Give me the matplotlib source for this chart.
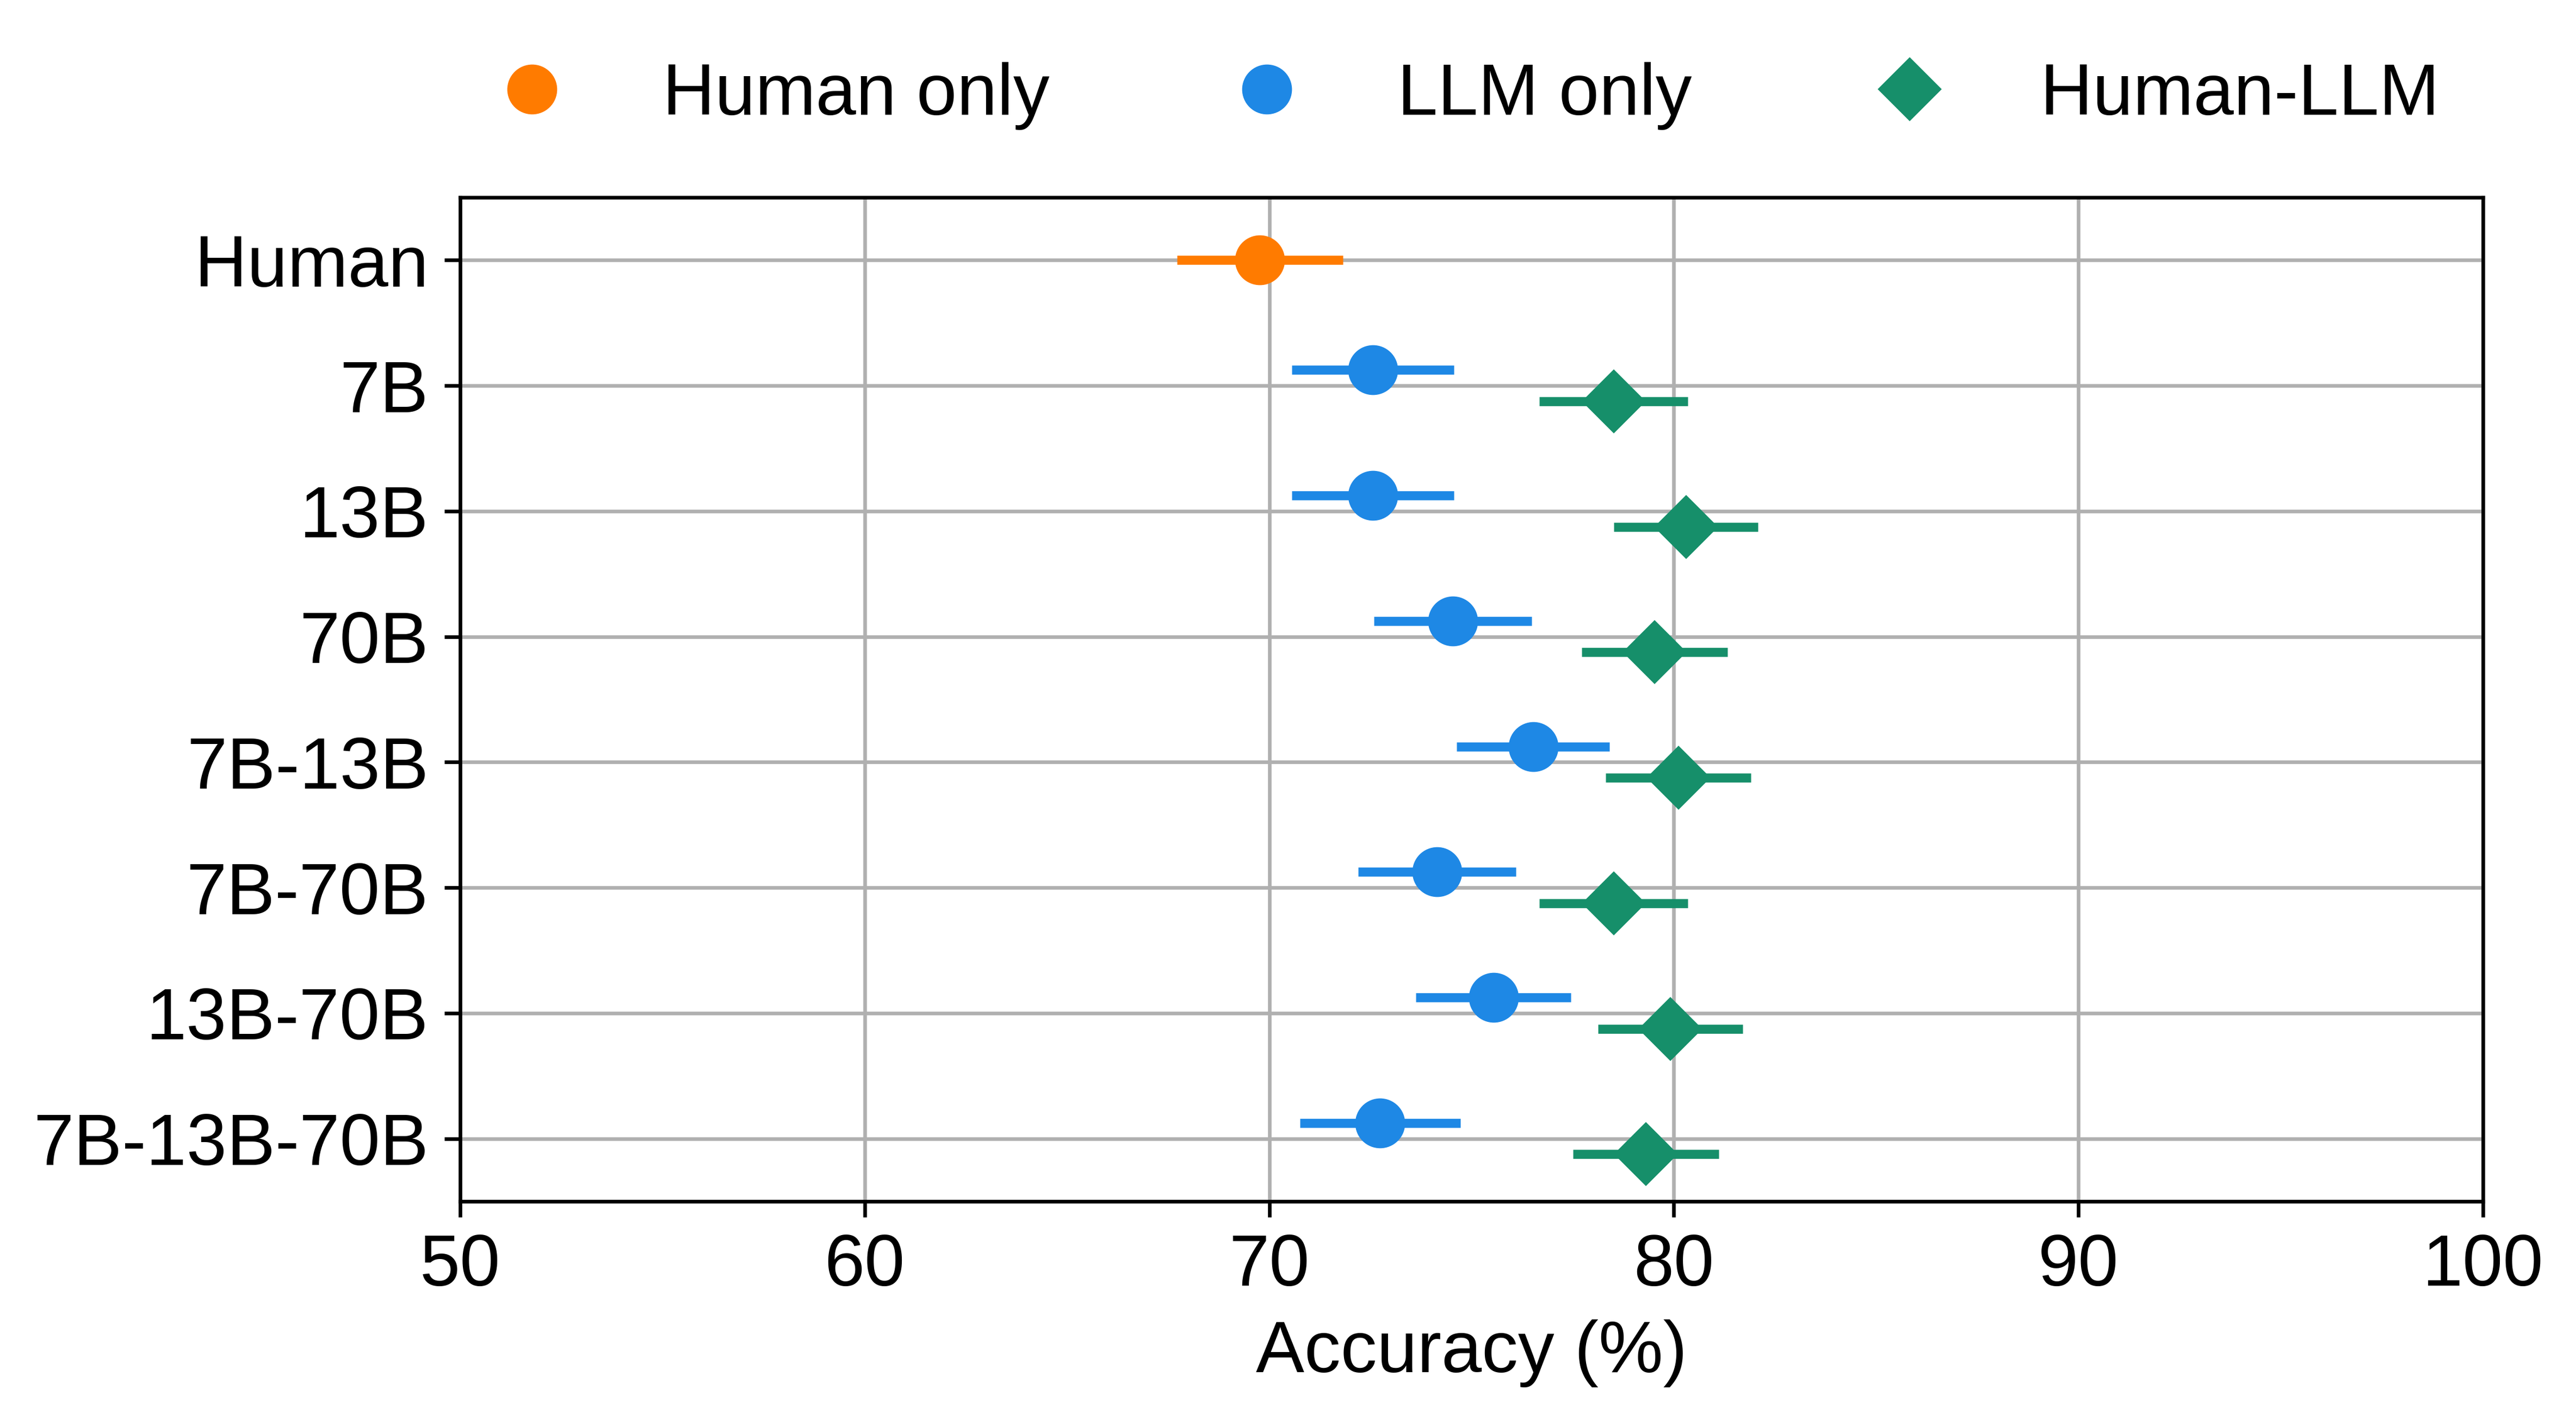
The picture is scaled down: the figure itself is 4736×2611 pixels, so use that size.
import matplotlib
matplotlib.use("Agg")
import matplotlib.pyplot as plt
from matplotlib.lines import Line2D
import numpy as np

plt.rcParams['font.family'] = ['Liberation Sans', 'DejaVu Sans']

categories = ["Human", "7B", "13B", "70B", "7B-13B", "7B-70B", "13B-70B", "7B-13B-70B"]

human_mean = [69.77]
human_err = [2.05]

llm_cats = ["7B", "13B", "70B", "7B-13B", "7B-70B", "13B-70B", "7B-13B-70B"]
llm_mean = [72.56, 72.56, 74.54, 76.52, 74.15, 75.54, 72.74]
llm_err = [2.00, 2.00, 1.95, 1.89, 1.95, 1.92, 1.98]

hl_mean = [78.51, 80.30, 79.52, 80.11, 78.51, 79.91, 79.31]
hl_err = [1.84, 1.78, 1.80, 1.79, 1.84, 1.79, 1.80]

xticks = [50, 60, 70, 80, 90, 100]

c_human = "#FF7B00"
c_llm = "#1E88E5"
c_hl = "#168F6A"

fig = plt.figure(figsize=(4736 / 600, 2611 / 600), dpi=600)
ax = fig.add_axes([0.17863, 0.15396, 0.96389 - 0.17863, 0.86097 - 0.15396])

ypos = np.arange(len(categories))
llm_y = np.array([categories.index(c) for c in llm_cats]) - 0.125
hl_y = np.array([categories.index(c) for c in llm_cats]) + 0.125

ax.errorbar(human_mean, [0], xerr=human_err, fmt='o', color=c_human, ms=10,
            elinewidth=2, capsize=0, zorder=3)
ax.errorbar(llm_mean, llm_y, xerr=llm_err, fmt='o', color=c_llm, ms=10,
            elinewidth=2, capsize=0, zorder=3)
ax.errorbar(hl_mean, hl_y, xerr=hl_err, fmt='D', color=c_hl, ms=9,
            elinewidth=2, capsize=0, zorder=3)

ax.set_yticks(ypos)
ax.set_yticklabels(categories, fontsize=16)
ax.set_ylim(len(categories) - 0.5, -0.5)
ax.set_xlim(50, 100)
ax.set_xticks(xticks)
ax.set_xticklabels([str(t) for t in xticks], fontsize=16)
ax.set_xlabel("Accuracy (%)", fontsize=16)
ax.grid(True, color="#b0b0b0", linewidth=0.8)
ax.set_axisbelow(True)

handles = [
    Line2D([], [], marker='o', color=c_human, linestyle='None', markersize=10),
    Line2D([], [], marker='o', color=c_llm, linestyle='None', markersize=10),
    Line2D([], [], marker='D', color=c_hl, linestyle='None', markersize=9),
]
ax.legend(handles, ["Human only", "LLM only", "Human-LLM"], loc='center',
          bbox_to_anchor=(0.489, 1.101), ncol=3, frameon=False, fontsize=16)

fig.savefig("out.png", dpi=600)
